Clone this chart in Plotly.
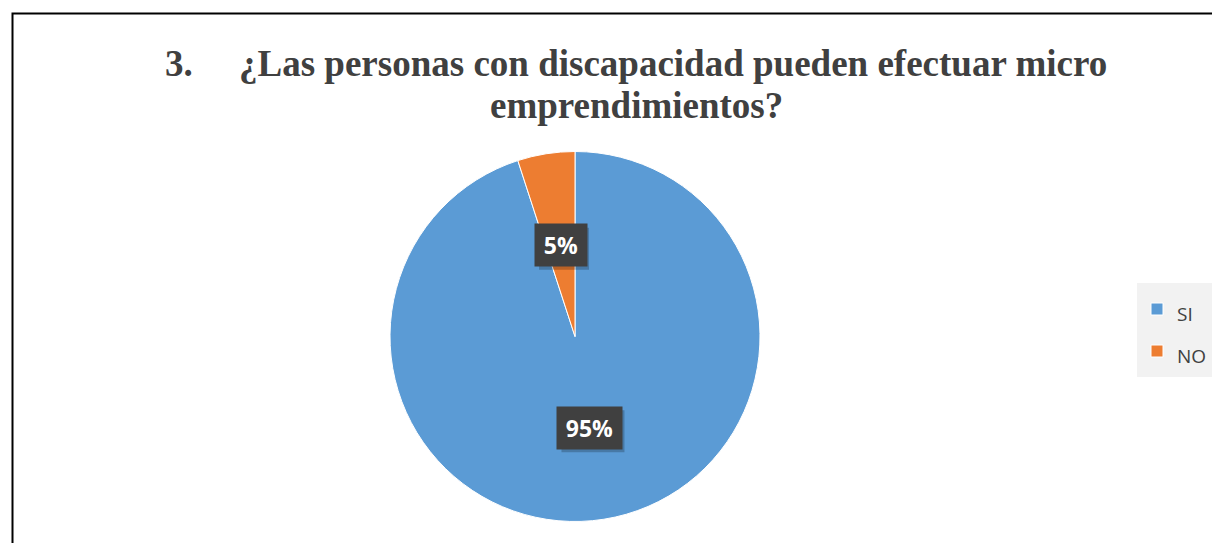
import math
import plotly.graph_objects as go

categories = ["SI", "NO"]
values = [95, 5]
label_texts = ["95%", "5%"]
colors = ["#5B9BD5", "#ED7D31"]
title_lines = ["3.\u00a0\u00a0\u00a0\u00a0\u00a0¿Las personas con discapacidad pueden efectuar micro",
               "emprendimientos?"]

W, H = 1212, 543


def px2x(x):
    return x / W


def px2y(y):
    return 1 - y / H


# pie placement (reference pixels)
pcx, pcy, pr = 575, 336.5, 185
dom_x = [px2x(pcx - pr), px2x(pcx + pr)]
dom_y = [px2y(pcy + pr), px2y(pcy - pr)]

fig = go.Figure()
fig.add_trace(go.Pie(
    labels=['<span style="font-size:19px">%s</span>' % c for c in categories],
    values=values, sort=False, direction="clockwise", rotation=0,
    marker=dict(colors=colors, line=dict(color="white", width=1)),
    textinfo="none", hoverinfo="label+percent",
    domain=dict(x=dom_x, y=dom_y),
))

# data labels placed at mid-angle of each slice
total = sum(values)
cum = 0
annotations = []
shapes = []
for v, t in zip(values, label_texts):
    mid = (cum + v / 2) / total * 2 * math.pi
    cum += v
    rr = 0.5 * pr
    lx = pcx + rr * math.sin(mid)
    ly = pcy - rr * math.cos(mid)
    ax, ay = px2x(lx), px2y(ly)
    bw = 23 + 13 * len(t)
    bh = 41
    shapes.append(dict(type="rect", xref="paper", yref="paper", xsizemode="pixel", ysizemode="pixel",
                       xanchor=ax, yanchor=ay, x0=-bw / 2 + 3, x1=bw / 2 + 4, y0=-bh / 2 - 4, y1=bh / 2 - 3,
                       fillcolor="rgba(0,0,0,0.22)", line=dict(width=0), layer="above"))
    annotations.append(dict(x=ax, y=ay, xref="paper", yref="paper", xanchor="center", yanchor="middle",
                            text="<b>\u2009%s\u2009</b>" % t,
                            showarrow=False, font=dict(color="white", size=23, family="Open Sans"),
                            bgcolor="#404040", borderpad=5))

annotations.append(dict(x=px2x(636), y=px2y(63), xref="paper", yref="paper", xanchor="center", yanchor="middle",
                        text="<b>%s</b>" % title_lines[0], showarrow=False,
                        font=dict(family="Liberation Serif", size=37, color="#404040")))
annotations.append(dict(x=px2x(636), y=px2y(105), xref="paper", yref="paper", xanchor="center", yanchor="middle",
                        text="<b>%s</b>" % title_lines[1], showarrow=False,
                        font=dict(family="Liberation Serif", size=37, color="#404040")))

shapes.append(dict(type="rect", xref="paper", yref="paper", x0=px2x(12.5), x1=1.02, y0=-0.02, y1=px2y(13.5),
                   line=dict(color="black", width=2), layer="above"))

fig.update_layout(
    width=W, height=H,
    margin=dict(l=0, r=0, t=0, b=0),
    paper_bgcolor="white",
    annotations=annotations,
    shapes=shapes,
    showlegend=True,
    legend=dict(x=px2x(1137), xanchor="left", y=px2y(330), yanchor="middle",
                bgcolor="#F2F2F2", font=dict(family="Open Sans", size=30, color="#404040"),
                itemclick=False),
)

fig.write_html("out.html", config={"displayModeBar": False},
               post_script="document.body.style.margin='0';document.body.style.overflow='hidden';")
